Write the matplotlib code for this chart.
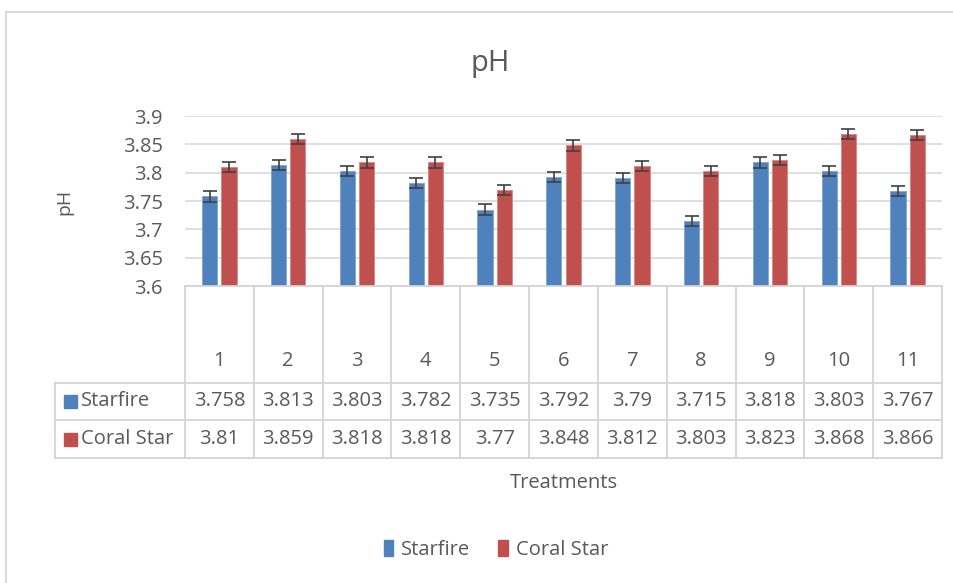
import matplotlib
matplotlib.use("Agg")
import matplotlib.pyplot as plt
import matplotlib.transforms as mtransforms
from matplotlib.lines import Line2D
from matplotlib.patches import Patch, Rectangle

plt.rcParams['font.family'] = ['Open Sans', 'DejaVu Sans']

categories = ['1', '2', '3', '4', '5', '6', '7', '8', '9', '10', '11']
starfire = [3.758, 3.813, 3.803, 3.782, 3.735, 3.792, 3.79, 3.715, 3.818, 3.803, 3.767]
coral_star = [3.81, 3.859, 3.818, 3.818, 3.77, 3.848, 3.812, 3.803, 3.823, 3.868, 3.866]
starfire_err = [0.009] * 11
coral_err = [0.009] * 11
series_names = ['Starfire', 'Coral Star']
yticks = [3.6, 3.65, 3.7, 3.75, 3.8, 3.85, 3.9]
ytick_labels = ['3.6', '3.65', '3.7', '3.75', '3.8', '3.85', '3.9']

BLUE = '#4F81BD'
RED = '#C0504D'
TXT = '#595959'
GRID = '#D9D9D9'
TBL = '#D4D4D4'

W, H = 954, 583
fig = plt.figure(figsize=(W / 100, H / 100), dpi=100)

def fx(px):
    return px / W

def fy(py):
    return 1 - py / H

ax_l, ax_r, ax_t, ax_b = 185, 942, 116, 286
ax = fig.add_axes([fx(ax_l), fy(ax_b), (ax_r - ax_l) / W, (ax_b - ax_t) / H])

x = list(range(len(categories)))
bw = 0.22
off = 0.14
ax.bar([i - off for i in x], [v - 3.6 for v in starfire], bottom=3.6, width=bw,
       color=BLUE, edgecolor='#7FA3D1', linewidth=0.6, zorder=2,
       yerr=starfire_err, error_kw=dict(ecolor='#404040', elinewidth=1.2, capsize=5, capthick=1.2))
ax.bar([i + off for i in x], [v - 3.6 for v in coral_star], bottom=3.6, width=bw,
       color=RED, edgecolor='#D98583', linewidth=0.6, zorder=2,
       yerr=coral_err, error_kw=dict(ecolor='#404040', elinewidth=1.2, capsize=5, capthick=1.2))

ax.set_xlim(-0.5, len(categories) - 0.5)
ax.set_ylim(3.6, 3.9)
ax.set_yticks(yticks)
ax.set_yticklabels(ytick_labels)
ax.tick_params(axis='y', length=0, pad=16, labelsize=14.5, labelcolor=TXT)
ax.set_xticks([])
ax.grid(axis='y', color=GRID, linewidth=1.2, zorder=0)
for s in ax.spines.values():
    s.set_visible(False)
ax.set_axisbelow(True)

# Title and axis labels
fig.text(fx(490), fy(63), 'pH', ha='center', va='center', fontsize=21, color=TXT)
fig.text(fx(64), fy(202), 'pH', ha='center', va='center', fontsize=14, color=TXT, rotation=90)
fig.text(fx((ax_l + ax_r) / 2), fy(483), 'Treatments', ha='center', va='center', fontsize=14.5, color=TXT)

# Data table
trans = mtransforms.blended_transform_factory(ax.transData, fig.transFigure)
row_top, row1, row2, row_bot = 286, 383, 420, 458
left_px = 55

def hline(y_px, x0_px):
    fig.add_artist(Line2D([fx(x0_px), fx(ax_r)], [fy(y_px), fy(y_px)],
                          color=TBL, linewidth=1.3, transform=fig.transFigure))

for i in range(len(categories) + 1):
    xe = i - 0.5
    fig.add_artist(Line2D([xe, xe], [fy(row_top), fy(row_bot)], color=TBL,
                          linewidth=1.3, transform=trans))
hline(row_top, ax_l)
hline(row1, left_px)
hline(row2, left_px)
hline(row_bot, left_px)
fig.add_artist(Line2D([fx(left_px), fx(left_px)], [fy(row1), fy(row_bot)], color=TBL,
                      linewidth=1.3, transform=fig.transFigure))

for i, c in enumerate(categories):
    fig.text(i, fy(361), c, transform=trans, ha='center', va='center', fontsize=14.5, color=TXT)
    fig.text(i, fy((row1 + row2) / 2), f'{starfire[i]:g}', transform=trans,
             ha='center', va='center', fontsize=14.5, color=TXT)
    fig.text(i, fy((row2 + row_bot) / 2), f'{coral_star[i]:g}', transform=trans,
             ha='center', va='center', fontsize=14.5, color=TXT)

for name, col, (ya, yb) in zip(series_names, [BLUE, RED], [(row1, row2), (row2, row_bot)]):
    yc = (ya + yb) / 2
    fig.add_artist(Rectangle((fx(64), fy(yc + 6.5)), 13 / W, 13 / H, color=col,
                             transform=fig.transFigure))
    fig.text(fx(81), fy(yc), name, ha='left', va='center', fontsize=14.5, color=TXT)

# Legend
handles = [Patch(facecolor=BLUE, edgecolor=BLUE), Patch(facecolor=RED, edgecolor=RED)]
leg = fig.legend(handles, series_names, loc='center', bbox_to_anchor=(fx(496), fy(550)),
                 ncol=2, frameon=False, fontsize=14.5, handlelength=0.45, handleheight=0.8,
                 handletextpad=0.4, columnspacing=1.4)
for t in leg.get_texts():
    t.set_color(TXT)

# Outer chart border (extends beyond image)
fig.add_artist(Line2D([fx(6), 1.0], [fy(12), fy(12)], color=GRID, linewidth=1.5, transform=fig.transFigure))
fig.add_artist(Line2D([fx(6), fx(6)], [fy(12), 0.0], color=GRID, linewidth=1.5, transform=fig.transFigure))

fig.savefig('out.png', dpi=100, facecolor='white')
